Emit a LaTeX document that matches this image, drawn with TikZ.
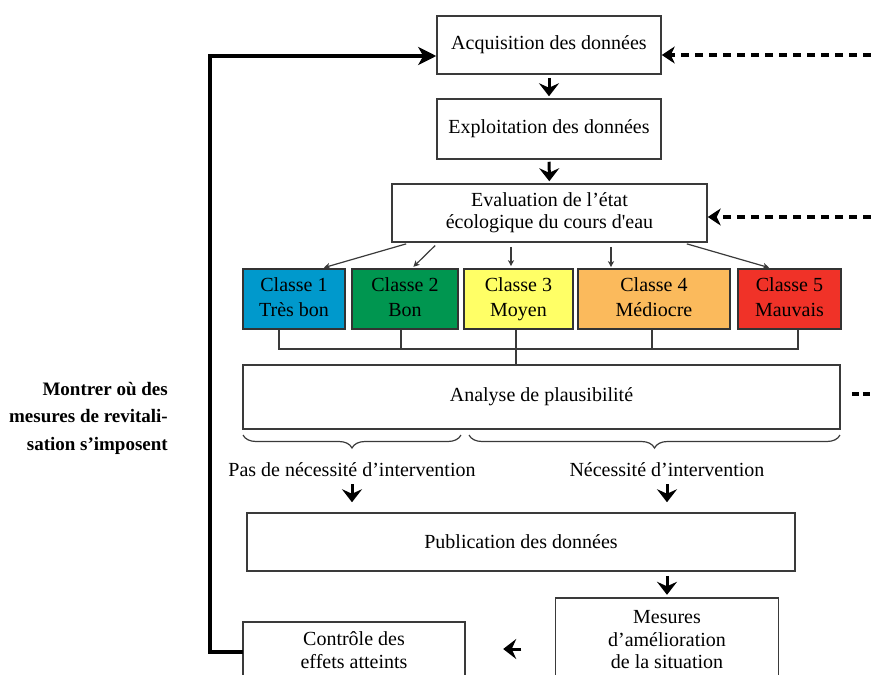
\documentclass[tikz,border=0pt]{standalone}
\usepackage{fontspec}
\setmainfont{Liberation Serif}
\usetikzlibrary{arrows.meta,decorations.pathreplacing}
\definecolor{c1col}{HTML}{0099CC}
\definecolor{c2col}{HTML}{009650}
\definecolor{c3col}{HTML}{FFFF66}
\definecolor{c4col}{HTML}{FBBA5C}
\definecolor{c5col}{HTML}{F03228}
\definecolor{edge}{HTML}{3A3A3A}
\begin{document}
\begin{tikzpicture}[x=1pt,y=-1pt,
  box/.style={draw=edge, line width=1.5pt, fill=white, inner sep=0pt, align=center,
    font=\fontsize{20}{22.5}\selectfont},
  openbox/.style={inner sep=0pt, align=center, font=\fontsize{20}{22.5}\selectfont},
  clsbox/.style={box, line width=1.6pt, draw=black!80, minimum height=60,
    font=\fontsize{20}{25}\selectfont},
  txt/.style={inner sep=0pt, align=center, font=\fontsize{20}{22.5}\selectfont},
  lefttxt/.style={inner sep=0pt, align=right, font=\fontsize{19}{27.5}\selectfont\bfseries},
  bigarrow/.style={line width=3pt, -{Stealth[length=13pt,width=20pt,inset=4.5pt]}},
  thinarrow/.style={line width=1.2pt, draw=edge, -{Stealth[length=6pt,width=6pt,inset=1.5pt]}},
  conn/.style={line width=1.5pt, draw=edge},
  feedback/.style={line width=3.5pt, -{Stealth[length=18pt,width=18pt,inset=5pt]}},
  dasharrow/.style={line width=3.5pt, dash pattern=on 8pt off 6pt,
    -{Stealth[length=13pt,width=17pt,inset=4pt]}},
  dashline/.style={line width=3.5pt, dash pattern=on 7pt off 4pt},
  bracestyle/.style={line width=1.2pt, draw=edge, decorate, decoration={brace, amplitude=13pt}}
]
\useasboundingbox (0,0) rectangle (871,675);

% main boxes
\node[box, minimum width=224, minimum height=58] (acq) at (549,45) {Acquisition des données};
\node[box, minimum width=224, minimum height=60] (expl) at (549,129) {Exploitation des données};
\node[box, minimum width=315, minimum height=58, font=\fontsize{20}{22}\selectfont] (eval) at (549.5,213)
  {Evaluation de l’état\\écologique du cours d\textquotesingle eau};

% classes
\node[clsbox, fill=c1col, minimum width=102] (c1) at (294,299) {\strut Classe 1\\Très bon\strut};
\node[clsbox, fill=c2col, minimum width=106] (c2) at (405,299) {\strut Classe 2\\Bon\strut};
\node[clsbox, fill=c3col, minimum width=109] (c3) at (518.5,299) {\strut Classe 3\\Moyen\strut};
\node[clsbox, fill=c4col, minimum width=152] (c4) at (654,299) {\strut Classe 4\\Médiocre\strut};
\node[clsbox, fill=c5col, minimum width=103] (c5) at (789.5,299) {\strut Classe 5\\Mauvais\strut};

\node[box, minimum width=597, minimum height=64] (ana) at (541.5,397) {Analyse de plausibilité};

\node[txt] (pas) at (352,470) {Pas de nécessité d’intervention};
\node[txt] (nec) at (667,470) {Nécessité d’intervention};

\node[box, minimum width=548, minimum height=58] (pub) at (521,542) {Publication des données};

\node[openbox, minimum width=223, minimum height=84] (mes) at (667,640)
  {Mesures\\d’amélioration\\de la situation};
\draw[conn] (mes.west |- 0,680) |- (mes.north) -| (mes.east |- 0,680);

\node[openbox, minimum width=222, minimum height=56] (ctrl) at (354,650)
  {Contrôle des\\effets atteints};
\draw[conn] (ctrl.west |- 0,680) |- (ctrl.north) -| (ctrl.east |- 0,680);

\node[lefttxt, anchor=east] (mt) at (168,418) {Montrer où des\\mesures de revitali-\\sation s’imposent};

% vertical flow arrows
\draw[bigarrow, shorten <=3pt, shorten >=2pt] (acq) -- (expl);
\draw[bigarrow, shorten <=2pt, shorten >=2pt] (expl) -- (eval);

% thin arrows to classes
\draw[thinarrow, shorten <=4pt, shorten >=2pt] (eval.south -| 410,0) -- (c1.north -| 322,0);
\draw[thinarrow, shorten <=4pt, shorten >=2pt] (eval.south -| 438,0) -- (c2.north -| 412,0);
\draw[thinarrow, shorten <=4pt, shorten >=2pt] (eval.south -| 511,0) -- (c3.north -| 511,0);
\draw[thinarrow, shorten <=4pt, shorten >=1pt] (eval.south -| 611,0) -- (c4.north -| 611,0);
\draw[thinarrow, shorten <=4pt, shorten >=2pt] (eval.south -| 683,0) -- (c5.north -| 771,0);

% bracket under classes
\coordinate (hb) at (516,349);
\draw[conn] (c1.south -| 279,0) |- (hb) -| (c5.south -| 798,0);
\draw[conn] (c2.south -| 401,0) -- ++(0,20);
\draw[conn] (c4.south -| 652,0) -- ++(0,20);
\draw[conn] (c3.south -| 516,0) -- (ana.north -| 516,0);

% braces
\draw[bracestyle] (461,435) -- (243,435);
\draw[bracestyle] (840,435) -- (469,435);

% arrows to publication
\draw[bigarrow, shorten <=7pt, shorten >=10pt] (pas.south) -- (pas.south |- pub.north);
\draw[bigarrow, shorten <=7pt, shorten >=10pt] (nec.south) -- (nec.south |- pub.north);
\draw[bigarrow, shorten <=4pt, shorten >=3pt] (pub.south -| mes.north) -- (mes.north);
\draw[bigarrow, shorten <=34pt, shorten >=38pt] (mes.west |- 0,649) -- (ctrl.east |- 0,649);

% feedback loop
\coordinate (fb) at (210,56);
\draw[feedback, line cap=butt] (ctrl.west |- 0,652) -| (fb) -- (acq.west |- fb);

% dashed inputs
\coordinate (d1) at (871,55);
\coordinate (d2) at (871,217);
\coordinate (d3) at (871,394);
\draw[dasharrow] (d1) -- (acq.east |- d1);
\draw[dasharrow] (d2) -- (eval.east |- d2);
\draw[dashline] ([xshift=11pt]ana.east |- d3) -- (d3);
\end{tikzpicture}
\end{document}
